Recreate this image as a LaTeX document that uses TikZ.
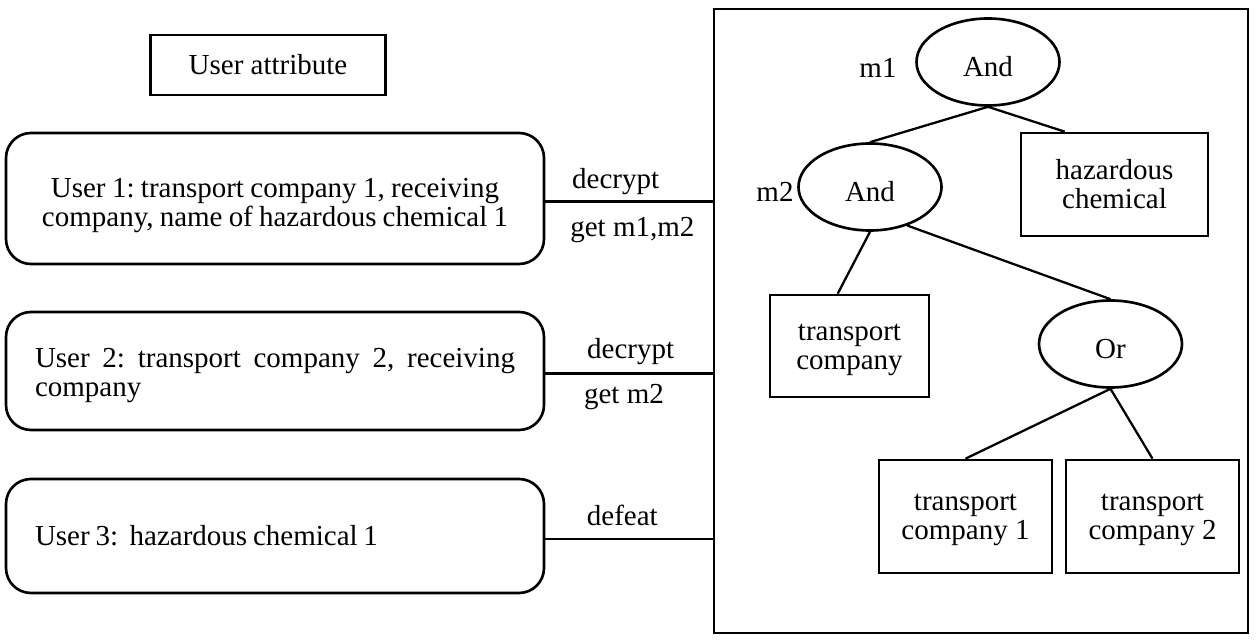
\documentclass[tikz,border=0pt]{standalone}
\usepackage{fontspec}
\setmainfont{Liberation Serif}
\usepackage{tikz}
\usetikzlibrary{shapes.geometric}
\frenchspacing

\tikzset{
	userbox/.style={draw, line width=1.5pt, rounded corners=0.5cm, minimum width=10.76cm, text width=9.6cm},
	tight/.style={execute at begin node={\spaceskip=0.2em plus 0.05em\relax}},
	attrbox/.style={draw, line width=1.5pt, minimum height=2.04cm, align=center},
	gate/.style={draw, ellipse, line width=1.5pt, minimum width=2.86cm, minimum height=1.74cm, inner sep=0pt, text height=17pt, text depth=0pt},
	link/.style={line width=1.3pt}
}

\begin{document}
\begin{tikzpicture}[font=\fontsize{16.5pt}{16.5pt}\selectfont]
	\useasboundingbox (0,0) rectangle (25.2,-12.8);
	\node[draw, line width=1.5pt, minimum width=4.7cm, minimum height=1.2cm] (title) at (5.36,-1.30) {User attribute};
	\node[userbox, tight, minimum height=2.62cm, text width=9.9cm, align=center] (user1) at (5.50,-3.97) {\rule{0pt}{19pt}User 1: transport company 1, receiving\\company, name of hazardous chemical 1};
	\node[userbox, minimum height=2.36cm, align=justify] (user2) at (5.50,-7.42) {\rule{0pt}{15.8pt}User 2: transport company 2, receiving company};
	\node[userbox, tight, minimum height=2.28cm, align=left] (user3) at (5.50,-10.72) {User 3:~ hazardous chemical 1};
	\node[draw, line width=1.5pt, minimum width=10.68cm, minimum height=12.48cm] (tree) at (19.62,-6.42) {};
	
	\draw[link] ([yshift=-0.06cm]user1.east) -- ([yshift=-0.06cm]user1.east -| tree.west) node[above, pos=0.42]{decrypt} node[below=5pt, pos=0.52]{get m1,m2};
	\draw[link] ([yshift=-0.05cm]user2.east) -- ([yshift=-0.05cm]user2.east -| tree.west) node[above=1pt, pos=0.51]{decrypt} node[below=2pt, pos=0.47]{get m2};
	\draw[link] ([yshift=-0.06cm]user3.east) -- ([yshift=-0.06cm]user3.east -| tree.west) node[above=3.5pt, pos=0.46]{defeat};
	
	\node[gate] (and1) at (19.76,-1.24) {And};
	\node[gate] (and2) at (17.40,-3.74) {And};
	\node[gate] (or) at (22.21,-6.88) {Or};
	\node (m1) at (17.56,-1.36) {m1};
	\node (m2) at (15.50,-3.84) {m2};
	\node[attrbox, minimum width=3.74cm, minimum height=2.06cm] (chem) at (22.29,-3.69) {hazardous\\chemical};
	\node[attrbox, minimum width=3.18cm] (tc) at (16.99,-6.92) {\rule{0pt}{14.1pt}transport\\company};
	\node[attrbox, minimum width=3.46cm, minimum height=2.26cm] (tc1) at (19.31,-10.33) {\rule{0pt}{13pt}transport\\company 1};
	\node[attrbox, minimum width=3.46cm, minimum height=2.26cm] (tc2) at (23.05,-10.33) {\rule{0pt}{13pt}transport\\company 2};
	
	\draw[link] (and1.south) -- (and2.north);
	\draw[link] (and1.south) -- ([xshift=0.9cm]chem.north west);
	\draw[link] (and2.south) -- ([xshift=1.38cm]tc.north west);
	\draw[link] (and2.-46) -- (or.north);
	\draw[link] (or.south) -- (tc1.north);
	\draw[link] (or.south) -- (tc2.north);
\end{tikzpicture}
\end{document}
